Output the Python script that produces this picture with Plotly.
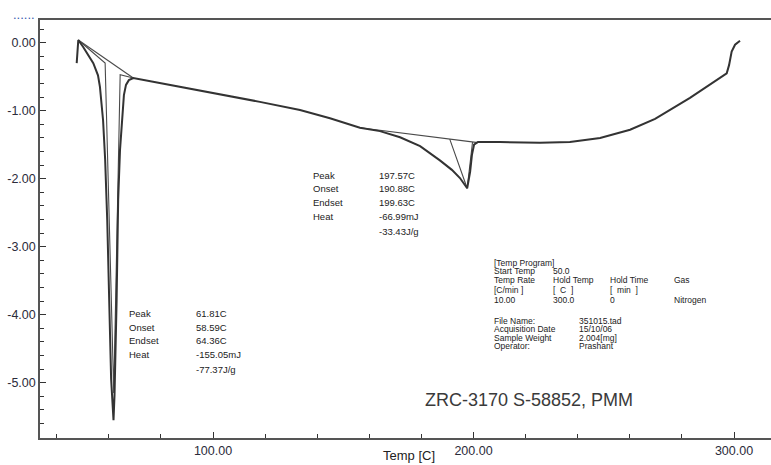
import plotly.graph_objects as go

# DSC heat-flow trace: temperature [C] vs heat flow [mW]
temp = [47.68, 47.98, 48.29, 50.1, 54.05, 55.85, 56.6, 57.8, 58.6, 59.4, 60.2, 60.9, 61.81,
        62.2, 63.0, 63.6, 64.3, 65.1, 65.8, 66.6, 67.7, 69.4,
        83.5, 100.0, 118.0, 133.4, 144.9, 156.4, 164.1, 171.8, 179.5, 187.1, 191.7, 194.8, 197.57,
        198.7, 199.4, 200.2, 201.7, 210.2, 225.5, 237.0, 248.6, 260.1, 269.7, 283.1, 290.8,
        297.2, 298.1, 299.1, 300.4, 302.3]
heat_flow = [-0.30, -0.11, 0.04, -0.06, -0.30, -0.48, -0.65, -1.14, -1.72, -2.61, -3.79, -4.95, -5.55,
             -5.18, -3.79, -2.31, -1.58, -1.06, -0.77, -0.62, -0.55, -0.52,
             -0.62, -0.74, -0.87, -0.99, -1.11, -1.25, -1.30, -1.39, -1.52, -1.73, -1.87, -1.99, -2.14,
             -1.90, -1.65, -1.50, -1.46, -1.46, -1.47, -1.46, -1.40, -1.28, -1.12, -0.81, -0.61,
             -0.45, -0.33, -0.13, -0.03, 0.03]

# Peak analysis results
peak1 = {"peak": 61.81, "onset": 58.59, "endset": 64.36, "heat_mj": -155.05, "heat_jg": -77.37}
peak2 = {"peak": 197.57, "onset": 190.88, "endset": 199.63, "heat_mj": -66.99, "heat_jg": -33.43}

# Baseline / tangent construction lines (temperature, heat flow)
base1_t = [48.29, 69.4]
base1_v = [0.04, -0.52]
tan1_t = [48.29, peak1["onset"], 61.9, peak1["endset"], 69.4]
tan1_v = [0.04, -0.30, -5.15, -0.47, -0.52]
base2_t = [156.4, 201.7]
base2_v = [-1.25, -1.47]
tan2_t = [peak2["onset"], peak2["peak"], peak2["endset"]]
tan2_v = [-1.417, -2.14, -1.46]

# Axis ticks
x_ticks = [100, 200, 300]
x_tick_text = ["100.00", "200.00", "300.00"]
y_ticks = [0, -1, -2, -3, -4, -5]
y_tick_text = ["0.00", "-1.00", "-2.00", "-3.00", "-4.00", "-5.00"]

sample_title = "ZRC-3170 S-58852, PMM"

program_rows = [
    ["[Temp Program]"],
    ["Start Temp", "50.0"],
    ["Temp Rate", "Hold Temp", "Hold Time", "Gas"],
    ["[C/min ]", "[  C  ]", "[  min  ]"],
    ["10.00", "300.0", "0", "Nitrogen"],
]
file_rows = [
    ["File Name:", "351015.tad"],
    ["Acquisition Date", "15/10/06"],
    ["Sample Weight", "2.004[mg]"],
    ["Operator:", "Prashant"],
]

FONT = "Liberation Sans, Arial, sans-serif"
W, H = 771, 465
ML, MR, MT, MB = 40, 0, 20, 27
PW, PH = W - ML - MR, H - MT - MB


def px(x):
    return (x - ML) / PW


def py(y):
    return (H - MB - y) / PH


fig = go.Figure()

line_grey = "#4a4a4a"
for tx, vy in [(base1_t, base1_v), (tan1_t, tan1_v), (base2_t, base2_v), (tan2_t, tan2_v)]:
    fig.add_trace(go.Scatter(x=tx, y=vy, mode="lines",
                             line=dict(color=line_grey, width=1.1), hoverinfo="skip",
                             showlegend=False))

fig.add_trace(go.Scatter(x=temp, y=heat_flow, mode="lines",
                         line=dict(color="#333333", width=2), showlegend=False))

ann = []


def text(x, y, s, size=9.5, color="#222222", anchor="left"):
    ann.append(dict(x=px(x), y=py(y), xref="paper", yref="paper", text=s, showarrow=False,
                    xanchor=anchor, yanchor="middle", borderpad=0,
                    font=dict(family=FONT, size=size, color=color)))


def peak_block(p, xl, xv, y0):
    rows = [("Peak", f"{p['peak']:.2f}C"), ("Onset", f"{p['onset']:.2f}C"),
            ("Endset", f"{p['endset']:.2f}C"), ("Heat", f"{p['heat_mj']:.2f}mJ"),
            ("", f"{p['heat_jg']:.2f}J/g")]
    steps = [0, 14, 27.5, 41.5, 56]
    for (lab, val), dy in zip(rows, steps):
        if lab:
            text(xl, y0 + dy, lab)
        text(xv, y0 + dy, val)


peak_block(peak1, 128, 195, 313)
peak_block(peak2, 312, 378, 175)

prog_cols = [493, 552, 609, 673]
prog_y = [262.5, 271, 279.5, 289.5, 300]
for row, yy in zip(program_rows, prog_y):
    for s, xx in zip(row, prog_cols):
        text(xx, yy, s, size=8.5)

file_y = [320.5, 329, 337.5, 346]
for row, yy in zip(file_rows, file_y):
    text(493, yy, row[0], size=8.5)
    text(578, yy, row[1], size=8.5)

text(529, 400, sample_title, size=18, color="#3a3a3a", anchor="center")
text(409, 455, "Temp [C]", size=13, color="#222222", anchor="center")
text(12, 14, "......", size=13, color="#3a5ab0")

fig.update_layout(
    width=W, height=H,
    margin=dict(l=ML, r=MR, t=MT, b=MB),
    paper_bgcolor="white", plot_bgcolor="white",
    annotations=ann,
    font=dict(family=FONT, color="#222222"),
    xaxis=dict(range=[33.59, 314.2], showgrid=False, zeroline=False,
               showline=True, linecolor="#555555", linewidth=1.5, mirror=True,
               ticks="inside", ticklen=6, tickcolor="#333333", tickwidth=1.2,
               tickvals=x_ticks, ticktext=x_tick_text,
               tickfont=dict(family=FONT, size=12.5, color="#2b2b3a"),
               minor=dict(dtick=20, tick0=0, ticks="inside", ticklen=4,
                          tickcolor="#333333", showgrid=False)),
    yaxis=dict(range=[-5.813, 0.334], showgrid=False, zeroline=False,
               showline=True, linecolor="#555555", linewidth=1.5,
               ticks="inside", ticklen=6, tickcolor="#333333", tickwidth=1.2,
               tickvals=y_ticks, ticktext=y_tick_text,
               tickfont=dict(family=FONT, size=12.5, color="#2b2b3a"),
               minor=dict(dtick=0.2, tick0=0, ticks="inside", ticklen=4,
                          tickcolor="#333333", showgrid=False)),
)

fig.write_html("out.html")
